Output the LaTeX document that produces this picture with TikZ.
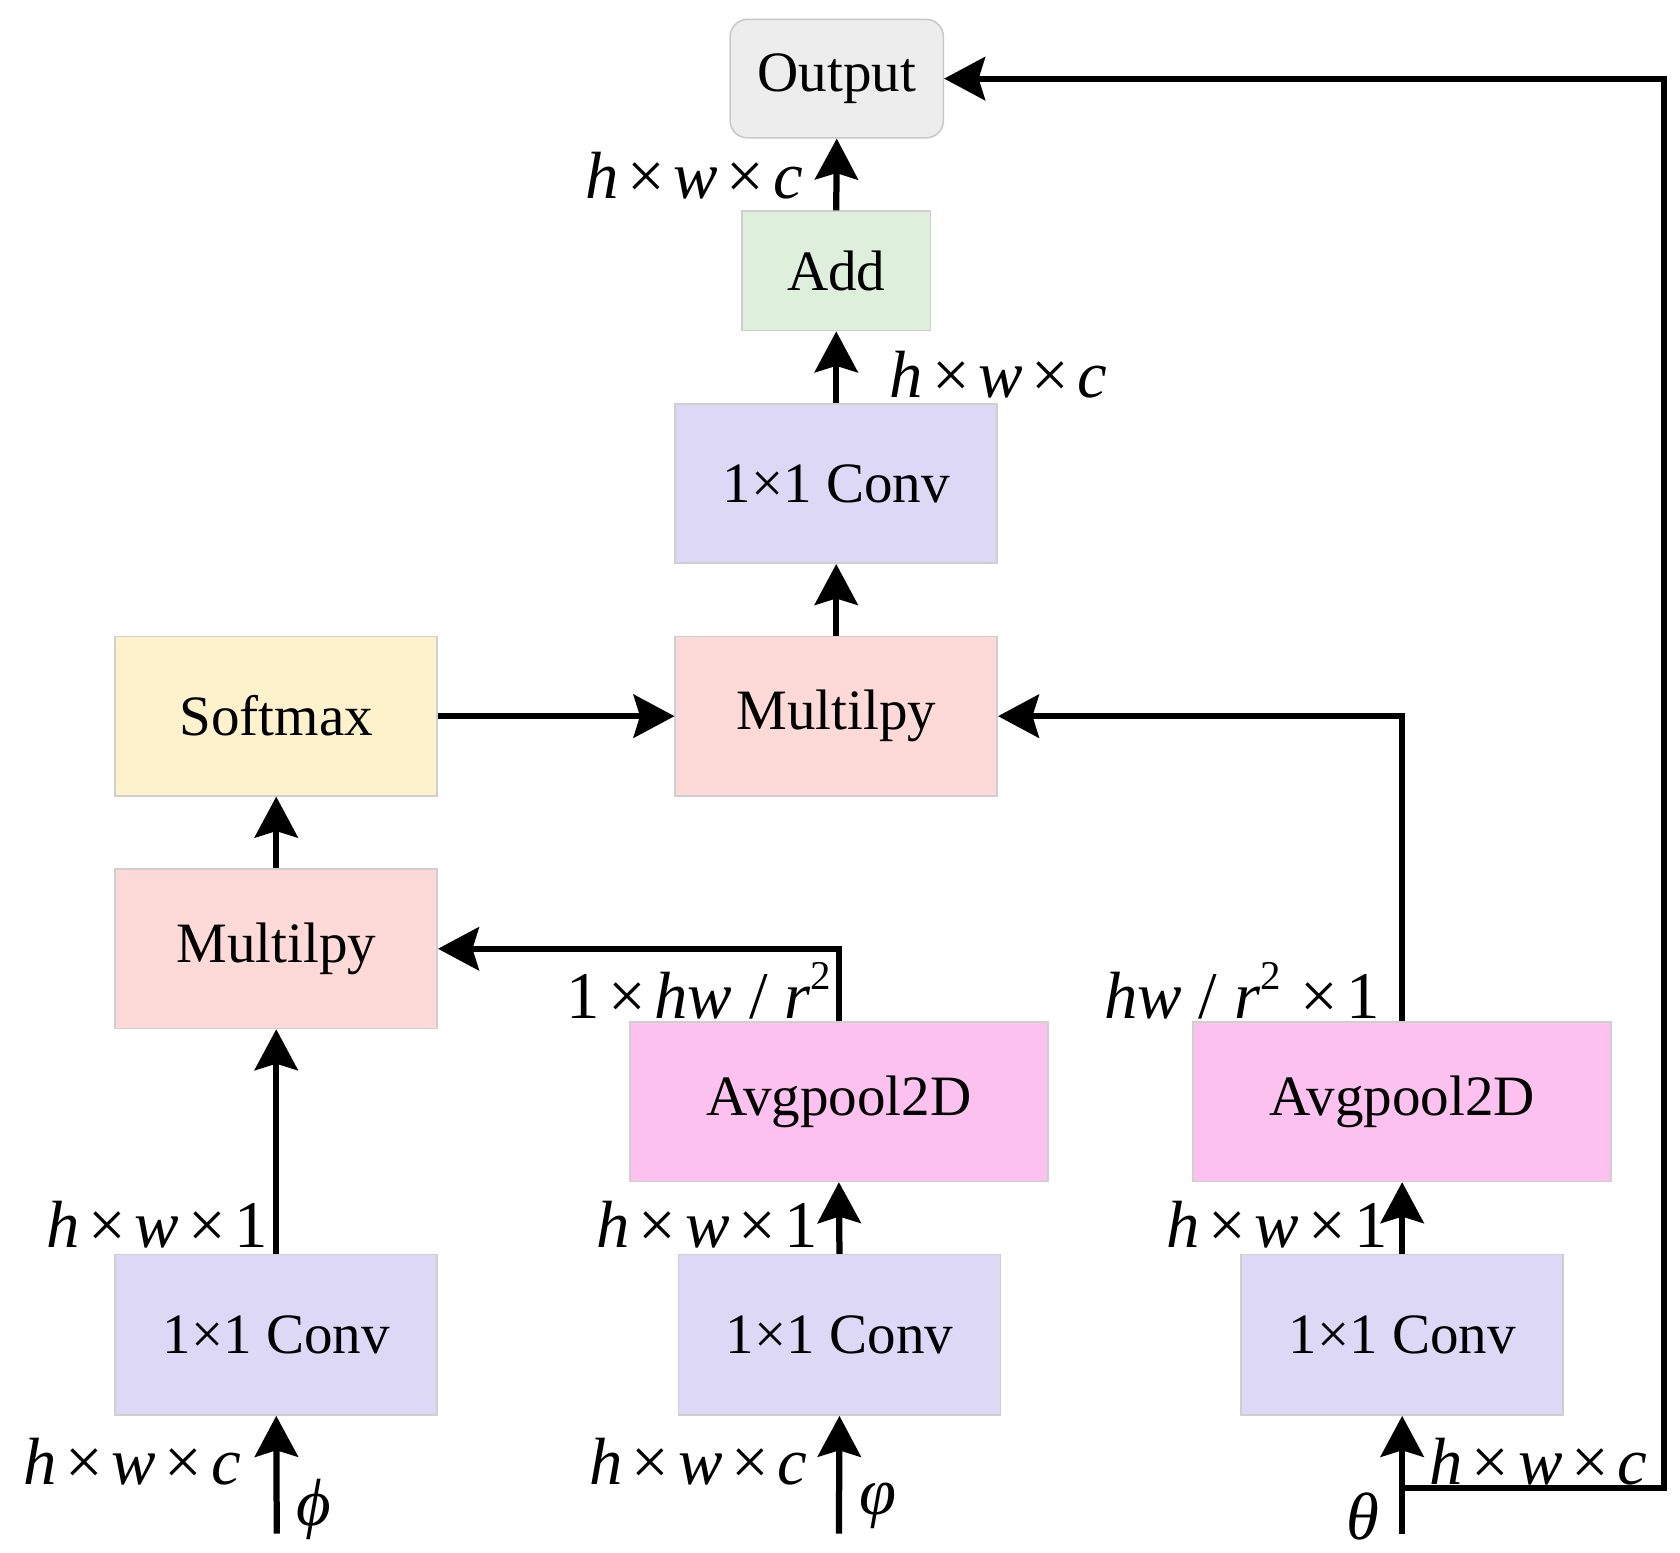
\documentclass[tikz,border=0pt]{standalone}
\usepackage{fontspec}
\setmainfont{Liberation Serif}
\usetikzlibrary{arrows.meta}
\definecolor{outfill}{HTML}{EDEDED}
\definecolor{outdraw}{HTML}{C8C8C8}
\definecolor{addfill}{HTML}{DEEFDC}
\definecolor{convfill}{HTML}{DCD8F6}
\definecolor{mulfill}{HTML}{FDD9D8}
\definecolor{softfill}{HTML}{FEF2CC}
\definecolor{avgfill}{HTML}{FCC1EE}
\definecolor{boxdraw}{HTML}{CFCFCF}
\newcommand{\tm}{\kern0.13em\texttimes\kern0.13em}
\newcommand{\sqr}{\raisebox{0.42em}{\fontsize{19}{19}\selectfont 2}}
\tikzset{
  blk/.style={draw=boxdraw, line width=0.7pt, inner sep=0pt, font=\fontsize{26.5}{30}\selectfont},
  lbl/.style={inner sep=0pt, font=\fontsize{31}{36}\selectfont},
  arr/.style={line width=2.9pt, -{Stealth[length=19pt,width=20pt,inset=3pt]}},
  ln/.style={line width=2.9pt}
}
\begin{document}
\begin{tikzpicture}[x=0.5pt,y=-0.5pt]
\useasboundingbox (0,0) rectangle (1560,1442);
% nodes
\node[blk, fill=outfill, draw=outdraw, rounded corners=8pt, minimum width=99pt, minimum height=55pt] (out) at (777,73) {Output};
\node[blk, fill=addfill, minimum width=87.5pt, minimum height=55.5pt] (add) at (776.5,251.5) {Add};
\node[blk, fill=convfill, minimum width=149.5pt, minimum height=74pt] (conv4) at (776.5,449) {1\texttimes1 Conv};
\node[blk, fill=mulfill, minimum width=149.5pt, minimum height=74pt] (mulR) at (776.5,665) {Multilpy};
\node[blk, fill=softfill, minimum width=149.5pt, minimum height=74pt] (soft) at (256.5,665) {Softmax};
\node[blk, fill=mulfill, minimum width=149.5pt, minimum height=74pt] (mulL) at (256.5,881) {Multilpy};
\node[blk, fill=avgfill, minimum width=194pt, minimum height=74pt] (avg1) at (779,1023) {Avgpool2D};
\node[blk, fill=avgfill, minimum width=194pt, minimum height=74pt] (avg2) at (1302,1023) {Avgpool2D};
\node[blk, fill=convfill, minimum width=149.5pt, minimum height=74.5pt] (conv1) at (256.5,1239.5) {1\texttimes1 Conv};
\node[blk, fill=convfill, minimum width=149.5pt, minimum height=74.5pt] (conv2) at (779.5,1239.5) {1\texttimes1 Conv};
\node[blk, fill=convfill, minimum width=149.5pt, minimum height=74.5pt] (conv3) at (1302,1239.5) {1\texttimes1 Conv};
% input coordinates
\coordinate (in1) at (257,1424);
\coordinate (in2) at (779,1424);
\coordinate (in3) at (1302,1424);
\coordinate (fb) at (1302,1382);
\coordinate (fbr) at (1545,1382);
% connectors
\draw[arr] (add.north) -- (out.south);
\draw[arr] (conv4.north) -- (add.south);
\draw[arr] (mulR.north) -- (conv4.south);
\draw[arr] (soft.east) -- (mulR.west);
\draw[arr] (avg2.north) |- (mulR.east);
\draw[arr] (mulL.north) -- (soft.south);
\draw[arr] (avg1.north) |- (mulL.east);
\draw[arr] (conv1.north) -- (mulL.south);
\draw[arr] (conv2.north) -- (avg1.south);
\draw[arr] (conv3.north) -- (avg2.south);
\draw[arr] (in1) -- (conv1.south);
\draw[arr] (in2) -- (conv2.south);
\draw[arr] (in3) -- (conv3.south);
\draw[arr] (fb) -- (fbr) |- (out.east);
% labels
\node[lbl, anchor=east] (l1) at (746,163) {\textit{h}\tm\textit{w}\tm\textit{c}};
\node[lbl, anchor=west] (l2) at (826,348) {\textit{h}\tm\textit{w}\tm\textit{c}};
\node[lbl, anchor=east] (l3) at (772,920) {1\tm\textit{hw} / \textit{r}\sqr};
\node[lbl, anchor=east] (l4) at (1282,920) {\textit{hw} / \textit{r}\sqr\,\tm1};
\node[lbl, anchor=east] (l5) at (249,1137) {\textit{h}\tm\textit{w}\tm1};
\node[lbl, anchor=east] (l6) at (760,1137) {\textit{h}\tm\textit{w}\tm1};
\node[lbl, anchor=east] (l7) at (1289,1137) {\textit{h}\tm\textit{w}\tm1};
\node[lbl, anchor=east] (l8) at (224,1357) {\textit{h}\tm\textit{w}\tm\textit{c}};
\node[lbl, anchor=east] (l9) at (750,1357) {\textit{h}\tm\textit{w}\tm\textit{c}};
\node[lbl, anchor=east] (l10) at (1530,1357) {\textit{h}\tm\textit{w}\tm\textit{c}};
\node[lbl] (g1) at (291,1402) {\textit{ϕ}};
\node[lbl] (g2) at (815,1398) {\textit{φ}};
\node[lbl] (g3) at (1266,1408) {\textit{θ}};
\end{tikzpicture}
\end{document}
